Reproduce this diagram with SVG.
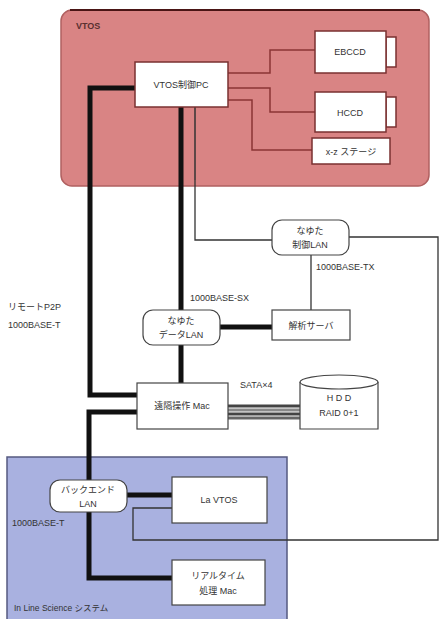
<svg xmlns="http://www.w3.org/2000/svg" width="440" height="619" viewBox="0 0 440 619">
<style>
text{font-family:"Liberation Sans","Noto Sans CJK JP",sans-serif;font-size:9px;fill:#333;}
.c{text-anchor:middle;}
.box{fill:#fff;stroke:#7a3030;stroke-width:1.5;}
.wbox{fill:#fff;stroke:#444;stroke-width:1.2;}
.thin{fill:none;stroke:#333;stroke-width:1.3;}
.red{fill:none;stroke:#8a3535;stroke-width:1.5;}
.thick{fill:none;stroke:#111;stroke-width:5;}
</style>
<rect width="440" height="619" fill="#fff"/>
<g id="vtos">
<rect x="61" y="10" width="368" height="176" rx="11" fill="#d98484" stroke="#b06060" stroke-width="1.5"/>
<line x1="70" y1="10" x2="420" y2="10" stroke="#4a1515" stroke-width="2"/>
<text x="76" y="29" style="font-weight:bold;fill:#5a3030">VTOS</text>
</g>
<g id="ils">
<rect x="7" y="457" width="280" height="170" fill="#a9b1e0" stroke="#555a80" stroke-width="1.5"/>
<text x="14" y="611" style="font-size:8.5px">In Line Science システム</text>
</g>
<g id="connectors">
<polyline class="red" points="228,73 270,73 270,50 315,50"/>
<polyline class="red" points="228,88 270,88 270,112 315,112"/>
<polyline class="red" points="228,100 252,100 252,150 312,150"/>
<polyline class="thick" points="135,88 90,88 90,395 137,395"/>
<line class="thick" x1="181" y1="107" x2="181" y2="383"/>
<polyline class="red" points="195,107 195,180" style="stroke:#333"/>
<polyline class="thin" points="195,180 195,240 272,240"/>
<polyline class="thin" points="348,237 438,237 438,540 133,540 133,508 172,508"/>
<line class="thin" x1="311" y1="255" x2="311" y2="310"/>
<line class="thick" x1="220" y1="327" x2="272" y2="327"/>
<polyline class="thick" points="137,412 89,412 89,578 172,578"/>
<line class="thick" x1="127" y1="495" x2="172" y2="495"/>
<g stroke-width="3">
<line x1="228" y1="406" x2="300" y2="406" stroke="#444"/>
<line x1="228" y1="410" x2="300" y2="410" stroke="#888"/>
<line x1="228" y1="414" x2="300" y2="414" stroke="#444"/>
<line x1="228" y1="418" x2="300" y2="418" stroke="#666"/>
</g>
</g>
<g id="pc">
<rect class="box" x="135" y="62" width="93" height="45"/>
<text class="c" x="181" y="88">VTOS制御PC</text>
</g>
<g id="ebccd">
<rect class="box" x="386" y="37" width="10" height="30"/>
<rect class="box" x="315" y="31" width="71" height="42"/>
<text class="c" x="350" y="55">EBCCD</text>
</g>
<g id="hccd">
<rect class="box" x="386" y="97" width="10" height="30"/>
<rect class="box" x="315" y="92" width="71" height="40"/>
<text class="c" x="350" y="116">HCCD</text>
</g>
<g id="xz">
<rect class="box" x="312" y="138" width="78" height="26"/>
<text class="c" x="351" y="155">x-z ステージ</text>
</g>
<g id="ctrl-lan">
<rect class="wbox" x="272" y="220" width="77" height="35" rx="10"/>
<text class="c" x="310" y="234">なゆた</text>
<text class="c" x="310" y="248">制御LAN</text>
</g>
<g id="server">
<rect class="wbox" x="272" y="310" width="78" height="30"/>
<text class="c" x="311" y="329">解析サーバ</text>
</g>
<g id="data-lan">
<rect class="wbox" x="143" y="310" width="77" height="35" rx="10"/>
<text class="c" x="181" y="324">なゆた</text>
<text class="c" x="181" y="338">データLAN</text>
</g>
<g id="mac">
<rect class="wbox" x="137" y="383" width="91" height="46"/>
<text class="c" x="182" y="409">遠隔操作 Mac</text>
</g>
<g id="hdd">
<path d="M300,382 V429 H378 V382" fill="#fff" stroke="#444" stroke-width="1.2"/>
<ellipse cx="339" cy="382" rx="39" ry="7" fill="#fff" stroke="#444" stroke-width="1.2"/>
<text class="c" x="339" y="401">H D D</text>
<text class="c" x="339" y="416">RAID 0+1</text>
</g>
<g id="backend-lan">
<rect class="wbox" x="50" y="480" width="77" height="32" rx="10"/>
<text class="c" x="88" y="493">バックエンド</text>
<text class="c" x="88" y="507">LAN</text>
</g>
<g id="la-vtos">
<rect class="wbox" x="172" y="477" width="95" height="46"/>
<text class="c" x="219" y="503">La VTOS</text>
</g>
<g id="rt-mac">
<rect class="wbox" x="172" y="560" width="93" height="45"/>
<text class="c" x="218" y="579">リアルタイム</text>
<text class="c" x="218" y="594">処理 Mac</text>
</g>
<g id="labels">
<text x="316" y="270">1000BASE-TX</text>
<text x="190" y="301">1000BASE-SX</text>
<text x="8" y="310">リモートP2P</text>
<text x="8" y="328">1000BASE-T</text>
<text x="240" y="388">SATA×4</text>
<text x="12" y="526">1000BASE-T</text>
</g>
</svg>
